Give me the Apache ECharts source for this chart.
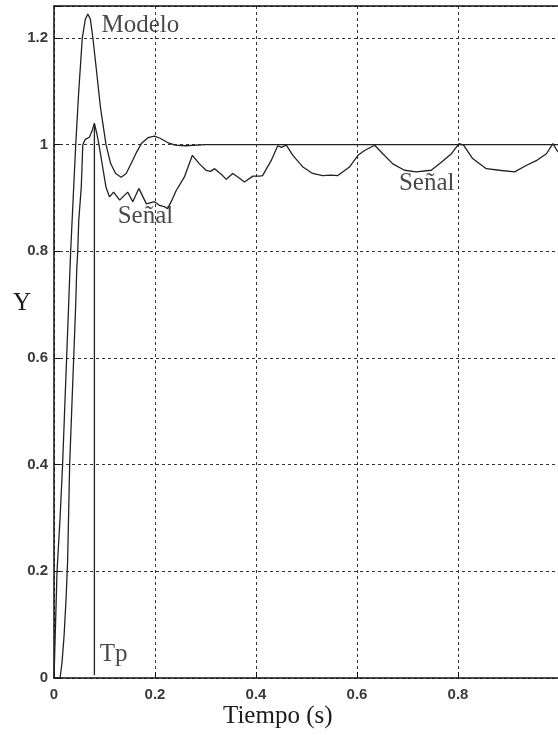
<!DOCTYPE html>
<html>
<head>
<meta charset="utf-8">
<script src="https://cdn.jsdelivr.net/npm/echarts@6/dist/echarts.min.js"></script>
<style>
html,body{margin:0;padding:0;background:#fff;}
#c{width:558px;height:735px;}
</style>
</head>
<body>
<div id="c"></div>
<script>
// ---- data ----
const modeloT = [0, 0.003, 0.006, 0.012, 0.017, 0.021, 0.025, 0.029, 0.033, 0.038, 0.043, 0.049, 0.056, 0.062, 0.067, 0.072, 0.077, 0.084, 0.092, 0.103, 0.112, 0.122, 0.133, 0.143, 0.153, 0.163, 0.173, 0.186, 0.199, 0.21, 0.225, 0.24, 0.26, 0.3, 0.5, 0.7, 1.0];
const modeloY = [0, 0.1, 0.2, 0.3, 0.4, 0.5, 0.6, 0.7, 0.8, 0.9, 1.0, 1.1, 1.2, 1.235, 1.245, 1.235, 1.2, 1.14, 1.07, 1.0, 0.965, 0.946, 0.939, 0.946, 0.965, 0.985, 1.002, 1.013, 1.016, 1.012, 1.004, 0.999, 0.998, 1.0, 1.0, 1.0, 1.0];

const senalT = [0, 0.012, 0.016, 0.02, 0.024, 0.027, 0.031, 0.035, 0.039, 0.043, 0.045, 0.047, 0.049, 0.054, 0.057, 0.062, 0.07, 0.075, 0.08, 0.085, 0.089, 0.096, 0.103, 0.11, 0.118, 0.13, 0.146, 0.156, 0.168, 0.183, 0.199, 0.209, 0.218, 0.225, 0.233, 0.242, 0.258, 0.274, 0.288, 0.301, 0.31, 0.318, 0.334, 0.341, 0.354, 0.366, 0.377, 0.394, 0.407, 0.413, 0.43, 0.443, 0.45, 0.46, 0.473, 0.493, 0.512, 0.532, 0.548, 0.562, 0.585, 0.602, 0.615, 0.635, 0.651, 0.671, 0.694, 0.717, 0.747, 0.767, 0.787, 0.802, 0.811, 0.829, 0.856, 0.882, 0.912, 0.935, 0.955, 0.975, 0.988, 0.996, 1.0];
const senalY = [0, 0, 0.03, 0.08, 0.15, 0.22, 0.4, 0.5, 0.6, 0.7, 0.765, 0.8, 0.858, 0.92, 1.0, 1.01, 1.014, 1.025, 1.04, 1.02, 1.0, 0.96, 0.92, 0.902, 0.911, 0.896, 0.911, 0.893, 0.918, 0.889, 0.893, 0.886, 0.884, 0.88, 0.895, 0.914, 0.939, 0.98, 0.964, 0.952, 0.95, 0.955, 0.942, 0.935, 0.946, 0.938, 0.93, 0.941, 0.941, 0.942, 0.97, 0.998, 0.995, 0.999, 0.98, 0.958, 0.946, 0.942, 0.943, 0.942, 0.958, 0.98, 0.989, 0.999, 0.983, 0.964, 0.952, 0.949, 0.952, 0.967, 0.983, 1.002, 0.999, 0.974, 0.955, 0.952, 0.949, 0.961, 0.97, 0.983, 1.002, 0.989, 0.985];

const tpT = [0.08, 0.08];
const tpY = [0.005, 1.04];

const annoText = ['Modelo', 'Señal', 'Señal', 'Tp'];
const annoT = [0.171, 0.181, 0.738, 0.118];
const annoY = [1.223, 0.866, 0.928, 0.044];

const xMin = 0, xMax = 1.0, xStep = 0.2;
const yMin = 0, yMax = 1.26, yStep = 0.2;
// --------------------------------------

const zip = (a, b) => a.map((v, i) => [v, b[i]]);
const serif = '"Liberation Serif", "Times New Roman", serif';
const ink = '#1a1a1a';
const fmt = v => {
  const k = v / 0.2;
  if (Math.abs(k - Math.round(k)) > 1e-6) return '';
  return String(+v.toFixed(1));
};

const chart = echarts.init(document.getElementById('c'), null, {renderer: 'canvas'});
chart.setOption({
  animation: false,
  backgroundColor: '#fff',
  grid: {left: 54, top: 6, width: 505, height: 672, containLabel: false, outerBoundsMode: 'none'},
  xAxis: [{
    type: 'value', min: xMin, max: xMax, interval: xStep, position: 'bottom',
    axisLine: {show: true, onZero: false, lineStyle: {color: '#111', width: 1.5}},
    axisTick: {show: true, inside: true, length: 6, lineStyle: {color: '#111'}},
    axisLabel: {
      margin: 9, color: '#3a3a3a', fontSize: 15, fontWeight: 'bold',
      fontFamily: '"Liberation Sans", Arial, sans-serif',
      formatter: v => (v > 0.999 ? '' : fmt(v))
    },
    splitLine: {show: true, lineStyle: {color: '#333', width: 1, type: [3, 3]}}
  }, {
    type: 'value', min: xMin, max: xMax, position: 'top',
    axisLine: {show: true, onZero: false, lineStyle: {color: '#111', width: 1.5}},
    axisTick: {show: false}, axisLabel: {show: false}, splitLine: {show: false}
  }],
  yAxis: {
    type: 'value', min: yMin, max: yMax, interval: yStep,
    axisLine: {show: true, onZero: false, lineStyle: {color: '#111', width: 1.5}},
    axisTick: {show: true, inside: true, length: 6, lineStyle: {color: '#111'}},
    axisLabel: {
      margin: 6, color: '#3a3a3a', fontSize: 15, fontWeight: 'bold',
      fontFamily: '"Liberation Sans", Arial, sans-serif',
      formatter: fmt
    },
    splitLine: {show: true, lineStyle: {color: '#333', width: 1, type: [3, 3]}}
  },
  graphic: [
    {type: 'text', left: 13, top: 291, style: {text: 'Y', font: '25px ' + serif, fill: ink}},
    {type: 'text', left: 223, top: 704, style: {text: 'Tiempo (s)', font: '25px ' + serif, fill: ink}}
  ],
  series: [
    {
      name: 'Modelo', type: 'line', data: zip(modeloT, modeloY), showSymbol: false,
      lineStyle: {color: '#222', width: 1.3}
    },
    {
      name: 'Señal', type: 'line', data: zip(senalT, senalY), showSymbol: false,
      lineStyle: {color: '#222', width: 1.3}
    },
    {
      name: 'Tp', type: 'line', data: zip(tpT, tpY), showSymbol: false,
      lineStyle: {color: '#222', width: 1.3}
    },
    {
      name: 'labels', type: 'scatter', symbolSize: 0,
      data: annoT.map((t, i) => [t, annoY[i], annoText[i]]),
      label: {
        show: true, position: 'inside', formatter: p => p.data[2],
        fontFamily: serif, fontSize: 25, color: ink
      }
    }
  ]
});
</script>
</body>
</html>
